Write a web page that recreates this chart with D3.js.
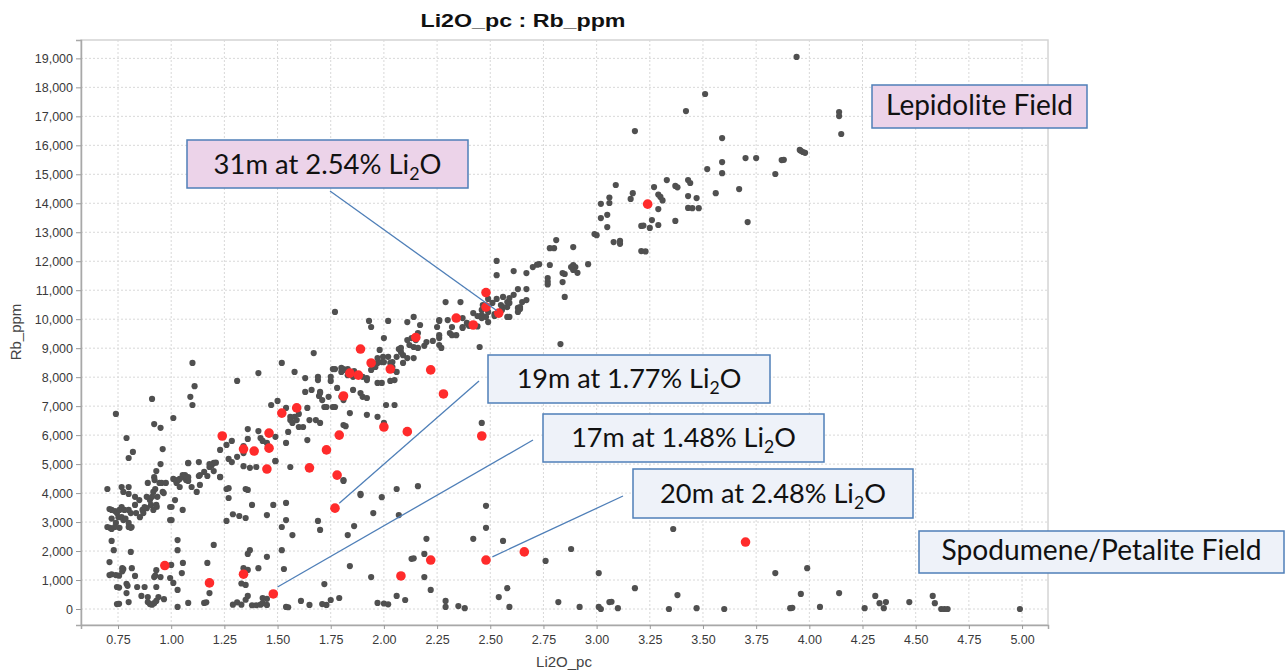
<!DOCTYPE html>
<html>
<head>
<meta charset="utf-8">
<script src="https://cdn.jsdelivr.net/npm/d3@7"></script>
<style>
  body { margin: 0; background: #fff; }
  .tick text { font-family: Arial, "Liberation Sans", sans-serif; font-size: 12.5px; fill: #3a3a3a; }
</style>
</head>
<body>
<svg id="chart" width="1285" height="671"></svg>
<script>
// tick labels
var xTickValues = [0.75, 1.00, 1.25, 1.50, 1.75, 2.00, 2.25, 2.50, 2.75, 3.00, 3.25, 3.50, 3.75, 4.00, 4.25, 4.50, 4.75, 5.00];
var yTickValues = [0, 1000, 2000, 3000, 4000, 5000, 6000, 7000, 8000, 9000, 10000,
    11000, 12000, 13000, 14000, 15000, 16000, 17000, 18000, 19000];

// [Li2O_pc, Rb_ppm] - all samples
var grayLeftCluster = [
    [0.70,4140],[0.71,3450],[0.72,3420],[0.736,3380],[0.745,3310],[0.752,3170],[0.767,3170],[0.775,3070],
    [0.785,3120],[0.80,2970],[0.80,2830],[0.81,2800],[0.814,2830],[0.74,2970],[0.70,2830],[0.712,2800],
    [0.72,2760],[0.735,2830],[0.72,3120],[0.757,2800],[0.767,4210],[0.775,4040],[0.80,4210],[0.80,3970],
    [0.767,3520],[0.757,3420],[0.78,3420],[0.80,3420],[0.81,3310],[0.83,3590],[0.83,3870],[0.85,3760],
    [0.835,3310],[0.853,3170],[0.865,3420],[0.869,3310],[0.875,3520],[0.885,3870],[0.89,4350],[0.90,3760],
    [0.905,3590],[0.91,3870],[0.916,4040],[0.922,4450],[0.925,4140],[0.935,3870],[0.932,3520],[0.945,4350],
    [0.955,4350],[0.96,4040],[0.965,4000],[0.975,4350],[0.995,3070],[1.002,3070],[0.995,3520],[1.002,3520],
    [1.018,3760],[1.034,4450],[1.025,4350],[1.02,4450],[1.04,4210],[1.054,4620],[1.06,4550],[1.07,4450],
    [1.075,4520],[1.08,4420],[1.096,4210],[1.054,3420],[0.916,3420],[0.93,3590],[0.885,3480]
];
var grayLowLeft = [
    [0.72,2350],[0.73,2030],[0.81,1970],[0.71,1620],[0.71,1170],[0.72,1200],[0.74,1170],[0.755,1150],
    [0.77,1410],[0.775,1380],[0.77,1300],[0.79,870],[0.795,800],[0.815,1410],[0.83,1140],[0.745,760],
    [0.755,740],[0.79,550],[0.80,240],[0.745,170],[0.755,180],[0.84,760],[0.875,760],[0.86,450],
    [0.89,240],[0.90,170],[0.91,150],[0.92,200],[0.93,280],[0.89,410],[0.92,1100],[0.925,1150],
    [0.93,1340],[0.93,760],[0.95,1100],[0.94,410],[0.966,340],[1.0,1520],[0.995,1070],[1.01,900],
    [1.03,660],[1.03,70],[1.03,2030],[1.03,2380],[1.055,1590],[1.05,1240],[1.08,210]
];
var grayLowMid = [
    [1.17,1590],[1.18,550],[1.155,210],[1.165,230],[1.20,2210],[1.29,150],[1.31,230],[1.33,150],
    [1.35,320],[1.36,450],[1.38,130],[1.40,130],[1.42,150],[1.43,200],[1.45,350],[1.34,1410],
    [1.33,880],[1.35,830],[1.36,1350],[1.37,2030],[1.36,1900],[1.41,1410],[1.43,380],[1.45,1800],
    [1.45,140],[1.52,2030],[1.53,1380],[1.54,70],[1.55,60],[1.57,2550],[1.61,280],[1.65,140],
    [1.71,170],[1.72,860],[1.73,140],[1.75,310],[1.79,380],[1.84,1480],[1.94,1100],[1.97,210],
    [2.0,190],[2.02,160],[2.06,450],
    [1.26,3040],[1.29,3270],[1.32,3210],[1.35,3140],[1.35,4140],[1.36,4110],[1.38,3590],[1.45,3240],
    [1.48,3590],[1.52,2830],[1.54,3070],[1.54,3660],[1.26,4140],[1.27,3830],[1.69,3040],[1.70,2730],
    [1.81,4420],[1.83,2550],[1.86,2860],[1.89,3970],[1.95,3310],[1.99,3860],[2.06,4140],[2.07,3240]
];
var grayLowRight = [
    [2.16,4240],[2.48,3560],[2.48,2800],[2.20,2420],[2.42,2420],[2.56,2350],[2.88,2070],[2.76,1660],
    [2.13,1730],[2.14,1750],[2.19,1900],[2.19,1100],[2.22,660],[2.10,310],[2.29,280],[2.29,70],
    [2.35,100],[2.38,30],[2.54,410],[2.58,720],[2.59,70],[2.82,240],[2.92,70],[3.01,1240],
    [3.01,70],[3.02,0],[3.06,240],[3.07,250],[3.10,30],[3.18,720],[3.36,2760],[3.38,480],
    [3.34,0],[3.47,30],[3.60,0],[3.84,1240],[3.99,1410],[3.96,520],[3.91,30],[3.92,40],
    [4.05,70],[4.14,550],[4.26,30],[4.31,450],[4.33,200],[4.35,30],[4.36,240],[4.47,240],
    [4.58,450],[4.59,200],[4.62,0],[4.635,0],[4.65,0],[4.99,0]
];
var grayMidLeft = [
    [0.74,6730],[0.79,5900],[0.80,5210],[0.82,5420],[0.91,7250],[0.92,6380],[0.95,6250],[0.96,5520],
    [0.95,5000],[0.93,4760],[0.92,4550],[1.01,6590],[1.10,8490],[1.11,7690],[1.09,7320],[1.10,7040],
    [1.01,4490],[1.04,4490],[1.065,4620],[1.08,4550],[1.13,4590],[1.17,4590],[1.08,5040],[1.13,5070],
    [1.18,5000],[1.20,5040],[1.19,4950],[1.20,4760],[1.23,4550],[1.23,5490],[1.26,5660],[1.27,5180],
    [1.285,5070],[1.285,5800],[1.31,5250],[1.31,7870],[1.34,4930],[1.34,5620],[1.34,5380],[1.36,6210],
    [1.36,5870],[1.37,4870],[1.39,5450],[1.40,4900],[1.41,8140],[1.41,6140],[1.42,5900],[1.43,5800],
    [1.45,5730],[1.455,5620],[1.47,7040],[1.49,5940],[1.49,5110],[1.50,7180],[1.52,8490],[1.54,6940],
    [1.54,5730],[1.55,6110],[1.56,6630],[1.56,6520],[1.56,4900],[1.57,6420],[1.58,6630],[1.58,8180],
    [1.59,6520],[1.60,6280],[1.60,6730],[1.62,6280],[1.63,7970],[1.63,7490],[1.64,6940],[1.65,6520],
    [1.67,8830],[1.66,7560],[1.68,6520],[1.69,8010],[1.695,7350],[1.70,7490],[1.70,6420],[1.71,7210],
    [1.72,6970],[1.73,6970],[1.75,7870],[1.76,8280],[1.77,6970],[1.78,7630],[1.80,8180],[1.80,7320],
    [1.81,7210],[1.81,8250],[1.64,5830],[1.27,4170],[1.12,4040],[1.135,4280],[1.135,4620],[1.155,4730],
    [1.18,4900],[1.21,5050],[1.23,4560],[1.08,5030],[1.49,5100]
];
var grayMidBand = [
    [1.77,10250],[1.93,9940],[1.94,9730],[2.02,9940],[2.0,9350],[1.98,8940],[2.07,8970],[1.77,8280],
    [1.81,8280],[1.86,8210],[1.90,8010],[1.92,7900],[1.855,7560],[1.89,7450],[1.90,7320],[1.92,7280],
    [1.97,7800],[1.99,7800],[2.03,7870],[2.05,7900],[2.01,7040],[1.97,6630],[1.92,6700],[1.84,6760],
    [1.82,6310],[1.81,6350],[1.76,6970],[1.74,7320],[1.70,7450],[1.69,7900],[1.75,8010],[1.81,4450],
    [1.89,3930],[1.83,8280],[1.80,8320],[1.83,8070],[1.855,8010],[1.92,7970],[1.94,8250],[1.96,8350],
    [1.97,8490],[1.97,8660],[1.99,8520],[2.0,8520],[1.996,8700],[2.02,8700],[2.03,8490],[2.04,8520],
    [2.04,8350],[2.04,8250],[2.06,8180],[2.06,8700],[2.08,9010],[2.09,8760],[2.11,8660],[2.14,8660],
    [2.11,9280],[2.12,9110],[2.14,9040],[2.16,9010],[2.15,9280],[2.19,9080],[2.20,9210],[2.23,9250],
    [2.26,9110],[2.26,9350],[2.26,9450],[2.25,9730],[2.26,9970],[2.30,9970],[2.32,9730],[2.32,9450],
    [2.34,9450],[2.37,9730],[2.39,9870],[2.37,10040],[2.11,9900],[2.14,10080],[2.17,9800],[2.16,9520],
    [2.13,9350],[2.08,8870],[2.09,8490],[2.27,9010],[2.31,9520],[2.26,9940],[2.29,10590],[2.36,10590],
    [2.37,9700],[2.40,9770],[2.42,9800],[2.44,9750],[2.45,9040],[2.46,10140],[2.49,9900],[2.52,10110],
    [2.83,9140],[2.46,6420],[2.0,6420],[2.05,7040]
];
var grayUpperBand = [
    [2.42,10210],[2.44,10110],[2.46,10040],[2.46,10320],[2.53,10700],[2.58,10590],[2.59,10560],[2.58,10420],
    [2.56,10420],[2.555,10320],[2.52,10180],[2.59,10080],[2.56,10770],[2.59,10730],[2.63,11040],[2.67,11040],
    [2.67,10660],[2.65,10590],[2.64,10420],[2.64,10350],[2.49,10700],[2.55,10490],[2.61,10840],[2.63,10390],
    [2.63,10250],[2.58,10080],[2.48,10080],[2.49,10250],[2.475,10390],[2.465,10490],[2.51,10560],[2.53,11520],
    [2.53,12010],[2.61,11660],[2.67,11590],[2.70,11800],[2.73,11900],[2.78,11870],[2.77,11420],[2.77,11300],
    [2.77,11200],[2.84,11590],[2.84,11280],[2.85,10770],[2.89,11870],[2.89,11750],[2.90,11800],[2.96,11900],
    [2.72,11880],[2.85,11560],[2.89,11700],[2.91,11600],[2.88,11800],[2.78,12450],[2.80,12450],[2.81,12730],
    [2.89,12490],[2.99,12940],[3.08,12660],[3.11,12700],[3.11,12600]
];
var grayTop = [
    [3.00,12900],[3.02,13980],[3.05,13600],[3.02,13490],[3.05,13180],[3.06,14010],[3.06,14200],[3.09,14630],
    [3.16,14150],[3.17,14350],[3.18,16490],[3.21,13220],[3.22,13230],[3.25,13150],[3.21,12350],[3.23,12340],
    [3.26,13420],[3.27,14560],[3.29,13800],[3.29,13250],[3.29,14300],[3.30,14220],[3.31,14100],[3.33,14800],
    [3.37,14600],[3.38,14550],[3.37,13390],[3.42,17180],[3.43,14800],[3.44,14700],[3.43,14250],[3.47,14180],
    [3.43,13840],[3.45,13830],[3.48,13830],[3.51,17770],[3.52,15180],[3.56,14350],[3.59,15420],[3.59,15040],
    [3.59,16250],[3.67,14490],[3.70,15560],[3.71,13350],[3.75,15560],[3.84,15010],[3.87,15490],[3.88,15500],
    [3.94,19050],[3.955,15840],[3.96,15810],[3.97,15770],[3.98,15740],[4.14,17150],[4.14,17010],[4.15,16390]
];
// highlighted intercepts
var redPoints = [
    [0.97,1500],[1.18,900],[1.34,1200],[1.48,520],[1.24,5970],[1.34,5520],[1.39,5450],[1.45,4830],
    [1.46,6070],[1.46,5550],[1.52,6760],[1.59,6940],[1.65,4870],[1.73,5490],[1.79,6000],[1.78,4620],
    [1.81,7350],[1.84,8140],[1.88,8070],[1.89,8970],[1.94,8490],[2.00,6280],[2.03,8280],[1.77,3480],
    [2.11,6120],[2.15,9370],[2.22,8250],[2.28,7420],[2.34,10040],[2.42,9800],[2.48,10920],[2.48,10420],
    [2.54,10210],[2.46,5970],[2.08,1140],[2.22,1690],[2.48,1690],[2.66,1970],[3.70,2310],[3.24,13970]
];
var grayPoints = [].concat(grayLeftCluster, grayLowLeft, grayLowMid, grayLowRight,
    grayMidLeft, grayMidBand, grayUpperBand, grayTop);

// annotation texts and the sample each leader line points at
var annoTexts = ['31m at 2.54% Li|2|O', 'Lepidolite Field', '19m at 1.77% Li|2|O',
    '17m at 1.48% Li|2|O', '20m at 2.48% Li|2|O', 'Spodumene/Petalite Field'];
var annoTargets = [[2.53, 10300], null, [1.79, 3650], [1.50, 760], [2.51, 1800], null];

var svg = d3.select('#chart'),
    plotLeft = 81, plotRight = 1048, plotTop = 40, plotBottom = 625;

var x = d3.scaleLinear().domain([0.576, 5.122]).range([plotLeft, plotRight]),
    y = d3.scaleLinear().domain([-552, 19634]).range([plotBottom, plotTop]);

// frame
svg.append('rect')
    .attr('x', plotLeft).attr('y', plotTop)
    .attr('width', plotRight - plotLeft).attr('height', plotBottom - plotTop)
    .attr('fill', '#fff').attr('stroke', '#d4d4d4').attr('stroke-width', 1.5);

// grid
var grid = svg.append('g').attr('stroke', '#d8d8d8').attr('stroke-dasharray', '2,2');
grid.selectAll('.gx').data(xTickValues).enter().append('line')
    .attr('x1', function (d) { return x(d); }).attr('x2', function (d) { return x(d); })
    .attr('y1', plotTop).attr('y2', plotBottom);
grid.selectAll('.gy').data(yTickValues).enter().append('line')
    .attr('y1', function (d) { return y(d); }).attr('y2', function (d) { return y(d); })
    .attr('x1', plotLeft).attr('x2', plotRight);

// axes
var yAxis = svg.append('g').attr('transform', 'translate(' + plotLeft + ',0)')
    .call(d3.axisLeft(y).tickValues(yTickValues).tickFormat(d3.format(',')).tickSize(5).tickPadding(3));
var xAxis = svg.append('g').attr('transform', 'translate(0,' + plotBottom + ')')
    .call(d3.axisBottom(x).tickValues(xTickValues).tickFormat(d3.format('.2f')).tickSize(4).tickPadding(6));
[yAxis, xAxis].forEach(function (a) {
    a.select('.domain').attr('stroke', '#a8a8a8').attr('stroke-width', 1.5);
    a.selectAll('.tick line').attr('stroke', '#999');
});

// titles
svg.append('text').attr('x', 523).attr('y', 27).attr('text-anchor', 'middle')
    .style('font', 'bold 19px Arial, "Liberation Sans", sans-serif').attr('fill', '#111')
    .attr('textLength', 205).attr('lengthAdjust', 'spacingAndGlyphs')
    .text('Li2O_pc : Rb_ppm');
svg.append('text').attr('x', 564).attr('y', 667).attr('text-anchor', 'middle')
    .style('font', '15px Arial, "Liberation Sans", sans-serif').attr('fill', '#444')
    .text('Li2O_pc');
svg.append('text').attr('transform', 'translate(21,332) rotate(-90)').attr('text-anchor', 'middle')
    .style('font', '15px Arial, "Liberation Sans", sans-serif').attr('fill', '#444')
    .text('Rb_ppm');

// points
svg.append('g').selectAll('circle').data(grayPoints).enter().append('circle')
    .attr('cx', function (d) { return x(d[0]); })
    .attr('cy', function (d) { return y(d[1]); })
    .attr('r', 3.1).attr('fill', '#505050');
svg.append('g').selectAll('circle').data(redPoints).enter().append('circle')
    .attr('cx', function (d) { return x(d[0]); })
    .attr('cy', function (d) { return y(d[1]); })
    .attr('r', 4.8).attr('fill', '#ff2b2b');

// annotation boxes: layout in pixels
var boxes = [
    { x: 187, y: 140, w: 281, h: 48, fill: '#ecd3e9', tw: 228, base: 174, from: [330, 191] },
    { x: 872, y: 85, w: 215, h: 43, fill: '#ecd3e9', tw: 187, base: 115 },
    { x: 488, y: 355, w: 282, h: 48, fill: '#eef2f9', tw: 225, base: 388, from: [479, 381] },
    { x: 543, y: 414, w: 281, h: 48, fill: '#eef2f9', tw: 225, base: 447, from: [533, 440] },
    { x: 633, y: 469, w: 280, h: 49, fill: '#eef2f9', tw: 226, base: 503, from: [623, 496] },
    { x: 919, y: 531, w: 365, h: 42, fill: '#eef2f9', tw: 320, base: 560 }
];

var anno = svg.append('g');
boxes.forEach(function (b, i) {
    var t = annoTargets[i];
    if (t) {
        anno.append('line')
            .attr('x1', b.from[0]).attr('y1', b.from[1])
            .attr('x2', x(t[0])).attr('y2', y(t[1]))
            .attr('stroke', '#4f7fb8').attr('stroke-width', 1.3);
    }
    anno.append('rect')
        .attr('x', b.x).attr('y', b.y).attr('width', b.w).attr('height', b.h)
        .attr('fill', b.fill).attr('stroke', '#4f7fb8').attr('stroke-width', 1.5);
    var parts = annoTexts[i].split('|');
    var txt = anno.append('text')
        .attr('x', b.x + b.w / 2).attr('y', b.base)
        .attr('text-anchor', 'middle')
        .style('font-family', 'Lato, "Open Sans", sans-serif')
        .style('font-size', '26px').attr('fill', '#111');
    parts.forEach(function (p, j) {
        var s = txt.append('tspan').text(p);
        if (j === 1) s.attr('dy', 6).style('font-size', '17px');
        if (j === 2) s.attr('dy', -6);
    });
    var w = txt.node().getComputedTextLength();
    var fs = 26 * b.tw / w;
    txt.style('font-size', fs + 'px');
    if (parts.length > 1) {
        txt.select('tspan:nth-child(2)').style('font-size', (fs * 0.65) + 'px');
    }
});
</script>
</body>
</html>
